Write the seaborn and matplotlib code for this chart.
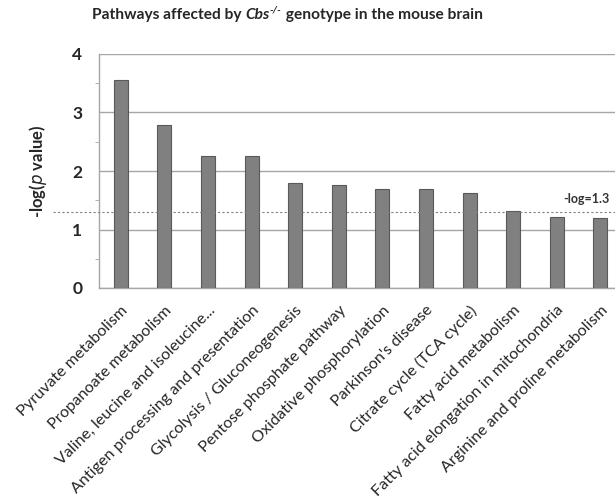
import matplotlib
matplotlib.use("Agg")
import matplotlib.pyplot as plt
import seaborn as sns
from pandas import DataFrame

pathways = [
    "Pyruvate metabolism",
    "Propanoate metabolism",
    "Valine, leucine and isoleucine...",
    "Antigen processing and presentation",
    "Glycolysis / Gluconeogenesis",
    "Pentose phosphate pathway",
    "Oxidative phosphorylation",
    "Parkinson's disease",
    "Citrate cycle (TCA cycle)",
    "Fatty acid metabolism",
    "Fatty acid elongation in mitochondria",
    "Arginine and proline metabolism",
]
neg_log_p = [3.56, 2.79, 2.25, 2.25, 1.79, 1.76, 1.70, 1.69, 1.63, 1.32, 1.22, 1.19]
threshold = 1.3

df = DataFrame({"pathway": pathways, "value": neg_log_p})

sns.set_style("white")
plt.rcParams["font.family"] = ["Lato", "DejaVu Sans"]

fig = plt.figure(figsize=(6.15, 4.98), dpi=100)
ax = fig.add_axes([99 / 615, 1 - 288 / 498, 516 / 615, 234 / 498])

sns.barplot(data=df, x="pathway", y="value", color="#808080", width=0.32,
            edgecolor="#5a5a5a", linewidth=0.8, saturation=1, ax=ax, zorder=3)

ax.set_ylim(0, 4)
ax.set_xlim(-0.5, -0.5 + 516 / 43.6)
ax.set_yticks([0, 1, 2, 3, 4])
ax.set_yticks([0.5, 1.5, 2.5, 3.5], minor=True)
ax.yaxis.grid(True, color="#a6a6a6", linewidth=1, zorder=0)
ax.set_axisbelow(True)
for s in ["top", "right"]:
    ax.spines[s].set_visible(False)
for s in ["left", "bottom"]:
    ax.spines[s].set_color("#a6a6a6")
    ax.spines[s].set_linewidth(1)
ax.tick_params(axis="y", which="major", length=5, color="#a6a6a6", labelsize=12.5, pad=7)
ax.tick_params(axis="y", which="minor", length=3, color="#a6a6a6", left=True)
ax.tick_params(axis="x", length=0, labelsize=11.6, pad=11)
for t in ax.get_yticklabels():
    t.set_fontweight("bold")
ax.set_xticks(range(len(pathways)))
ax.set_xticklabels(pathways, rotation=45, ha="right", va="top", rotation_mode="anchor")
ax.set_xlabel("")
ax.set_ylabel("-log($\\mathit{p}$ value)", fontsize=12, fontweight="bold", labelpad=17)

# significance line
ax.axhline(threshold, xmin=-0.09, xmax=1, color="#808080", linestyle=(0, (2, 2)),
           linewidth=0.8, clip_on=False, zorder=4)
ax.text(10.15, threshold + 0.12, "-log=1.3", fontsize=9, fontweight="bold",
        color="#333333", ha="left", va="bottom")

# title built from pieces so Cbs can be italic with a small superscript
fs = 11.2
t1 = fig.text(92 / 615, 0.97, "Pathways affected by ", ha="left", va="center",
              fontsize=fs, fontweight="bold")
t2 = ax.annotate("Cbs", xy=(1, 0), xycoords=t1, ha="left", va="bottom",
                 fontsize=fs, fontweight="bold", fontstyle="italic")
t3 = ax.annotate("-/-", xy=(1, 0.55), xycoords=t2, ha="left", va="bottom",
                 fontsize=7.5, fontweight="bold", fontstyle="italic")
ax.annotate(" genotype in the mouse brain", xy=(1, 0), xycoords=t2,
            xytext=(t3.get_fontsize() * 1.2, 0), textcoords="offset points",
            ha="left", va="bottom", fontsize=fs, fontweight="bold")

fig.savefig("out.png", dpi=100)
